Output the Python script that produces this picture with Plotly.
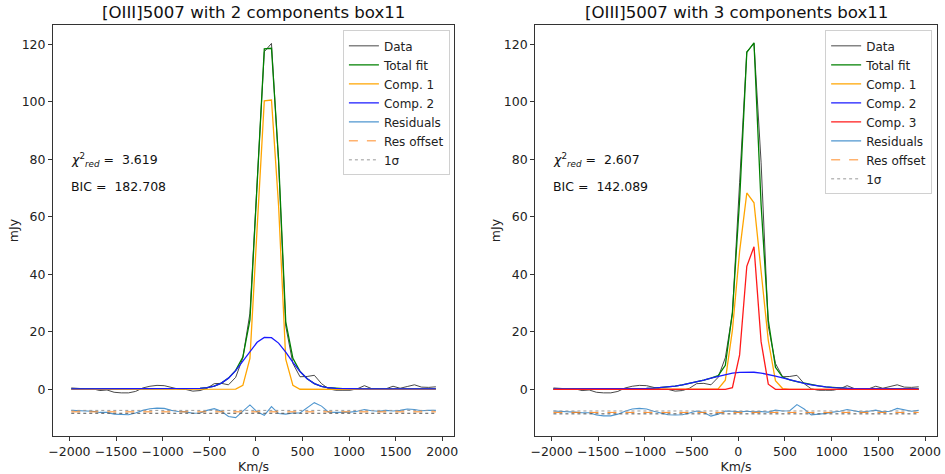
import plotly.graph_objects as go

# velocity grid (km/s)
vel = [-1980, -1903, -1827, -1750, -1673, -1597, -1520, -1443, -1366, -1290,
       -1213, -1136, -1060, -983, -906, -830, -753, -676, -599, -523,
       -446, -369, -293, -216, -139, -63, 14, 91, 168, 244,
       321, 398, 474, 551, 628, 705, 781, 858, 935, 1011,
       1088, 1165, 1241, 1318, 1395, 1472, 1548, 1625, 1702, 1778,
       1855, 1932]

data = [0.5, 0.3, 0.2, 0.2, -0.4, -0.2, -1.0, -1.2, -1.2, -0.7,
        0.5, 1.1, 1.4, 1.3, 0.6, 0.1, 0.0, -0.6, -0.4, 0.4,
        2.0, 2.1, 1.6, 4.2, 11.0, 26.5, 72.0, 117.4, 120.3, 79.0,
        22.0, 9.0, 4.4, 4.5, 4.9, 2.0, 0.2, -0.3, -0.3, -0.3,
        0.2, 1.3, 0.3, 0.2, 0.2, 1.1, 0.4, 1.0, 1.6, 0.8,
        0.7, 0.9]

# ---- 2-component fit ----
fit2_total = [0.2]*17 + [0.25, 0.36, 0.61, 1.15, 2.19, 3.92, 6.62, 11.23, 24.2,
              72.4, 118.4, 118.6, 80.1, 23.5, 10.8, 6.25, 3.7, 2.03, 1.06,
              0.57, 0.34, 0.25] + [0.2]*13
fit2_c1 = [0.0]*23 + [0.1, 1.4, 10.8, 56.0, 100.3, 100.6, 64.0, 10.5, 1.4, 0.05] + [0.0]*19
fit2_c2 = [0.2]*17 + [0.25, 0.36, 0.61, 1.15, 2.19, 3.92, 6.52, 9.83, 13.4,
           16.4, 18.1, 18.0, 16.1, 13.0, 9.4, 6.2, 3.7, 2.03, 1.06,
           0.57, 0.34, 0.25] + [0.2]*13
fit2_res = [-7.3, -7.4, -7.5, -7.6, -8.0, -8.0, -8.6, -8.8, -8.8, -8.2,
            -7.3, -6.7, -6.5, -6.6, -7.3, -7.7, -7.8, -8.3, -8.2, -7.3,
            -6.7, -7.6, -9.4, -9.8, -7.5, -5.4, -7.8, -9.0, -6.0, -8.4,
            -8.6, -8.2, -8.2, -6.5, -4.6, -5.8, -7.9, -8.0, -8.0, -7.9,
            -7.6, -7.0, -7.4, -7.6, -7.3, -7.5, -7.3, -6.8, -7.0, -7.4,
            -7.3, -7.3]
fit2_offset = -7.8
fit2_sigma = 0.5
fit2_chi = "3.619"
fit2_bic = "182.708"

# ---- 3-component fit ----
fit3_total = [0.15]*10 + [0.19, 0.22, 0.26, 0.34, 0.45, 0.61, 0.85, 1.16, 1.56, 2.05,
              2.62, 3.26, 3.92, 4.77, 8.36, 26.8, 65.9, 117.2, 120.5, 64.3,
              24.0, 7.7, 4.3, 3.33, 2.68, 2.1, 1.61, 1.19, 0.87, 0.64,
              0.46, 0.35, 0.27, 0.22, 0.19, 0.17] + [0.15]*6
fit3_c1 = [0.0]*23 + [0.2, 3.2, 20.6, 48.0, 68.3, 64.9, 42.0, 17.0, 3.0, 0.3] + [0.0]*19
fit3_c2 = [0.15]*10 + [0.19, 0.22, 0.26, 0.34, 0.45, 0.61, 0.85, 1.16, 1.56, 2.05,
           2.62, 3.26, 3.92, 4.57, 5.16, 5.63, 5.94, 6.05, 5.96, 5.67,
           5.22, 4.64, 4.0, 3.33, 2.68, 2.1, 1.61, 1.19, 0.87, 0.64,
           0.46, 0.35, 0.27, 0.22, 0.19, 0.17] + [0.15]*6
fit3_c3 = [0.0]*25 + [0.6, 12.0, 42.8, 49.6, 16.6, 1.8, 0.05] + [0.0]*20
fit3_res = [-7.5, -7.6, -7.6, -7.9, -8.1, -8.1, -8.9, -9.2, -9.2, -8.6,
            -7.6, -6.8, -6.6, -6.8, -7.6, -8.2, -8.8, -8.9, -8.8, -8.2,
            -7.5, -8.0, -9.3, -8.6, -7.5, -7.6, -7.8, -7.6, -7.8, -7.7,
            -7.9, -7.2, -7.5, -7.4, -5.3, -6.8, -8.9, -8.6, -8.4, -7.9,
            -7.6, -7.0, -7.4, -7.9, -7.6, -7.2, -7.8, -7.6, -6.6, -7.2,
            -7.6, -7.3]
fit3_offset = -8.0
fit3_sigma = 0.5
fit3_chi = "2.607"
fit3_bic = "142.089"

titles = ["[OIII]5007 with 2 components box11", "[OIII]5007 with 3 components box11"]
xtick_vals = [-2000, -1500, -1000, -500, 0, 500, 1000, 1500, 2000]
xtick_text = ["\u22122000", "\u22121500", "\u22121000", "\u2212500", "0", "500", "1000", "1500", "2000"]
ytick_vals = [0, 20, 40, 60, 80, 100, 120]
ytick_text = ["0", "20", "40", "60", "80", "100", "120"]

FONT = "DejaVu Sans"
C_DATA = "#333333"
C_TOT = "#008000"
C_C1 = "#FFA500"
C_C2 = "#1a1aff"
C_C3 = "#FF1a1a"
C_RES = "#4f96cf"
C_OFF = "#ff7f0e"
C_SIG = "#999999"

fig = go.Figure()


def panel(xa, ya, lg, total, comps, res, offset, sigma):
    common = dict(x=vel, mode="lines", xaxis=xa, yaxis=ya, legend=lg, hoverinfo="skip")
    fig.add_trace(go.Scatter(y=data, name="Data", line=dict(color=C_DATA, width=0.9), **common))
    fig.add_trace(go.Scatter(y=total, name="Total fit", line=dict(color=C_TOT, width=1.3), **common))
    cols = [C_C1, C_C2, C_C3]
    for k, c in enumerate(comps):
        fig.add_trace(go.Scatter(y=c, name="Comp. %d" % (k + 1), line=dict(color=cols[k], width=1.3), **common))
    fig.add_trace(go.Scatter(y=res, name="Residuals", line=dict(color=C_RES, width=1.1), **common))
    n = len(vel)
    fig.add_trace(go.Scatter(y=[offset] * n, name="Res offset",
                             line=dict(color=C_OFF, width=0.9, dash="dash"), **common))
    fig.add_trace(go.Scatter(y=[offset + sigma] * n, name="1\u03c3", legendgroup=lg + "s",
                             line=dict(color=C_SIG, width=1.0, dash="dot"), **common))
    fig.add_trace(go.Scatter(y=[offset - sigma] * n, name="1\u03c3", legendgroup=lg + "s", showlegend=False,
                             line=dict(color="#555555", width=1.0, dash="dot"), **common))


panel("x", "y", "legend", fit2_total, [fit2_c1, fit2_c2], fit2_res, fit2_offset, fit2_sigma)
panel("x2", "y2", "legend2", fit3_total, [fit3_c1, fit3_c2, fit3_c3], fit3_res, fit3_offset, fit3_sigma)

axis_common = dict(showline=True, mirror=True, linecolor="#333333", linewidth=1,
                   ticks="outside", ticklen=4, tickcolor="#333333", showgrid=False,
                   zeroline=False, tickfont=dict(size=12.5, family=FONT, color="#222"))
xr = [-2176, 2128]
yr = [-16.2, 126.7]
d1 = [0.0, 0.4538]
d2 = [0.5454, 1.0]

fig.update_layout(
    width=945, height=474,
    margin=dict(l=53, r=4, t=25, b=38),
    plot_bgcolor="white", paper_bgcolor="white",
    font=dict(family=FONT, size=12, color="#222"),
    xaxis=dict(domain=d1, range=xr, tickvals=xtick_vals, ticktext=xtick_text, anchor="y",
               title=dict(text="Km/s", standoff=0, font=dict(size=12.5)), **axis_common),
    yaxis=dict(domain=[0, 1], range=yr, tickvals=ytick_vals, ticktext=ytick_text, anchor="x",
               title=dict(text="mJy", standoff=0, font=dict(size=12.5)), **axis_common),
    xaxis2=dict(domain=d2, range=xr, tickvals=xtick_vals, ticktext=xtick_text, anchor="y2",
                title=dict(text="Km/s", standoff=0, font=dict(size=12.5)), **axis_common),
    yaxis2=dict(domain=[0, 1], range=yr, tickvals=ytick_vals, ticktext=ytick_text, anchor="x2",
                title=dict(text="mJy", standoff=0, font=dict(size=12.5)), **axis_common),
    legend=dict(x=0.449, y=0.987, xanchor="right", yanchor="top", bgcolor="rgba(255,255,255,0.85)",
                bordercolor="#d0d0d0", borderwidth=1, font=dict(size=12, family=FONT),
                itemwidth=30, tracegroupgap=0),
    legend2=dict(x=0.9945, y=0.987, xanchor="right", yanchor="top", bgcolor="rgba(255,255,255,0.85)",
                 bordercolor="#d0d0d0", borderwidth=1, font=dict(size=12, family=FONT),
                 itemwidth=30, tracegroupgap=0),
    showlegend=True,
)

annots = []
for xa, ya, dom, title, chi, bic in [("x", "y", d1, titles[0], fit2_chi, fit2_bic),
                                     ("x2", "y2", d2, titles[1], fit3_chi, fit3_bic)]:
    annots.append(dict(text=title, xref="paper", yref="paper", x=(dom[0] + dom[1]) / 2, y=1.0,
                       xanchor="center", yanchor="bottom", yshift=1, showarrow=False,
                       font=dict(size=16.6, family=FONT, color="#111")))
    annots.append(dict(text="<i>\u03c7</i><sup>2</sup><sub><i>red</i></sub> =  " + chi,
                       xref=xa + " domain", yref=ya + " domain", x=0.04, y=0.672,
                       xanchor="left", yanchor="middle", showarrow=False,
                       font=dict(size=12.5, family=FONT, color="#111")))
    annots.append(dict(text="BIC =  " + bic,
                       xref=xa + " domain", yref=ya + " domain", x=0.04, y=0.606,
                       xanchor="left", yanchor="middle", showarrow=False,
                       font=dict(size=12.5, family=FONT, color="#111")))
fig.update_layout(annotations=annots)

fig.write_html("out.html")
